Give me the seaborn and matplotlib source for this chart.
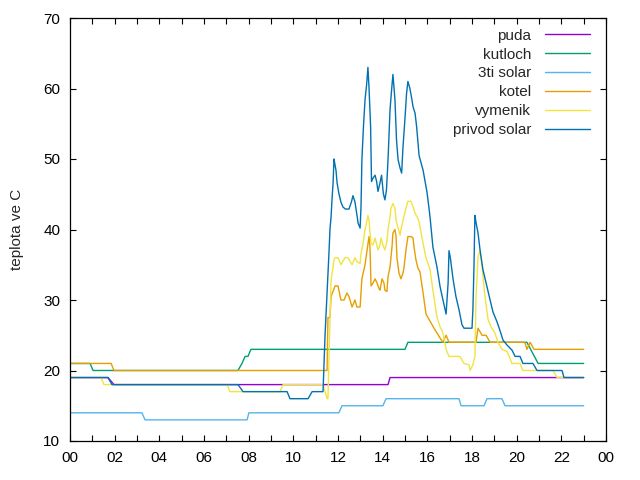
import pandas as pd
import matplotlib
matplotlib.use("Agg")
import matplotlib.pyplot as plt
import seaborn as sns
from matplotlib.ticker import MultipleLocator, FuncFormatter

# sensor names and gnuplot default colours
names = ["puda", "kutloch", "3ti solar", "kotel", "vymenik", "privod solar"]
colors = ["#9400d3", "#009e73", "#56b4e9", "#e69f00", "#f0e442", "#0072b2"]

# readings: time in hours, temperature in C
puda_t = [0.0, 1.70, 1.97, 14.24, 14.33, 23.0]
puda_v = [19, 19, 18, 18, 19, 19]

kutloch_t = [0.0, 0.90, 1.03, 7.52, 7.70, 7.84, 7.97, 8.10, 15.00, 15.13, 20.46, 20.96, 23.0]
kutloch_v = [21, 21, 20, 20, 21, 22, 22, 23, 23, 24, 24, 21, 21]

solar3_t = [0.0, 3.22, 3.36, 7.93, 8.01, 12.04, 12.18, 14.01, 14.15, 17.42, 17.51,
            18.54, 18.67, 19.34, 19.48, 23.0]
solar3_v = [14, 14, 13, 13, 14, 14, 15, 15, 16, 16, 15, 15, 16, 16, 15, 15]

kotel_t = [0.0, 1.84, 1.97, 11.51, 11.55, 11.64, 11.69, 11.87, 12.00, 12.13, 12.27, 12.40,
           12.49, 12.63, 12.76, 12.85, 12.99, 13.07, 13.21, 13.30, 13.39, 13.43, 13.48,
           13.57, 13.66, 13.75, 13.84, 13.88, 13.97, 14.06, 14.10, 14.19, 14.24, 14.33,
           14.42, 14.46, 14.55, 14.60, 14.64, 14.73, 14.82, 14.91, 14.96, 15.04, 15.13,
           15.27, 15.36, 15.40, 15.49, 15.58, 15.67, 15.81, 15.94, 16.12, 16.30, 16.57,
           16.70, 16.84, 16.97, 18.18, 18.27, 18.45, 18.63, 18.81, 20.37, 20.46, 20.60,
           20.78, 23.0]
kotel_v = [21, 21, 20, 20, 27.5, 27.5, 30.5, 32, 32, 30, 30, 31,
           30.5, 29, 30, 29, 29, 33, 35, 37, 39, 37.6, 32,
           32.4, 33, 32.4, 31.6, 31.4, 33, 32.4, 31.4, 31.2, 33.3, 34.7,
           37.6, 39.5, 40, 39, 36, 33.8, 33, 33.8, 34.7, 37, 39,
           39, 38.8, 37.6, 35.7, 34.5, 34, 31, 28, 27, 26, 24.6,
           24, 25, 24, 24, 26, 25, 25, 24, 24, 23, 24,
           23, 23]

vymenik_t = [0.0, 1.39, 1.52, 7.03, 7.16, 7.61, 9.40, 9.54, 11.33, 11.42, 11.51, 11.55,
             11.64, 11.69, 11.78, 11.82, 11.87, 12.00, 12.13, 12.31, 12.45, 12.63, 12.76,
             12.85, 12.99, 13.03, 13.12, 13.21, 13.30, 13.34, 13.39, 13.43, 13.48, 13.57,
             13.66, 13.70, 13.79, 13.88, 13.93, 14.01, 14.10, 14.19, 14.24, 14.33, 14.37,
             14.46, 14.55, 14.60, 14.69, 14.78, 14.82, 14.91, 15.04, 15.13, 15.27, 15.36,
             15.45, 15.54, 15.63, 15.81, 15.94, 16.12, 16.25, 16.43, 16.57, 16.70, 16.84,
             16.97, 17.46, 17.64, 17.87, 17.91, 18.04, 18.13, 18.18, 18.27, 18.36, 18.45,
             18.58, 18.72, 18.85, 19.03, 19.16, 19.34, 19.57, 19.79, 20.15, 20.28, 21.63,
             21.81, 23.0]
vymenik_v = [19, 19, 18, 18, 17, 17, 17, 18, 18, 17, 16, 16,
             27.2, 32.8, 34.7, 35.7, 36, 36, 35, 36, 36, 35, 36,
             35.4, 35.2, 36.6, 38, 40, 41.3, 42, 41.3, 39.7, 38, 37.8,
             38.8, 38.3, 37.1, 37.8, 38.8, 37.8, 37.1, 38.3, 40, 41.8, 43,
             43.7, 43, 41.3, 40.2, 39.2, 40, 41.3, 43, 44, 44, 43.2,
             42.3, 41.8, 41.1, 38, 36, 34.3, 31.4, 27.6, 26.2, 25.3, 23,
             22, 22, 21, 20.8, 20, 20.8, 22, 30.5, 36.1, 37, 34.7,
             30.5, 27.2, 26.2, 25.3, 24, 23, 22.7, 21, 21, 20, 20,
             19, 19]

privod_t = [0.0, 1.70, 1.88, 7.52, 7.75, 9.72, 9.85, 10.66, 10.84, 11.33, 11.42, 11.51,
            11.60, 11.64, 11.69, 11.73, 11.78, 11.82, 11.87, 11.91, 11.96, 12.04, 12.13,
            12.22, 12.33, 12.49, 12.60, 12.67, 12.76, 12.85, 12.90, 12.99, 13.03, 13.07,
            13.14, 13.21, 13.28, 13.34, 13.39, 13.46, 13.50, 13.57, 13.66, 13.73, 13.79,
            13.88, 13.95, 14.03, 14.10, 14.17, 14.24, 14.33, 14.40, 14.46, 14.55, 14.62,
            14.69, 14.78, 14.85, 14.91, 15.00, 15.07, 15.13, 15.22, 15.30, 15.36, 15.45,
            15.52, 15.63, 15.81, 15.99, 16.12, 16.25, 16.43, 16.57, 16.70, 16.84, 16.93,
            16.97, 17.03, 17.15, 17.28, 17.42, 17.55, 17.64, 18.00, 18.04, 18.09, 18.13,
            18.18, 18.27, 18.36, 18.49, 18.67, 18.81, 18.94, 19.12, 19.25, 19.39, 19.57,
            19.79, 19.93, 20.15, 20.28, 20.73, 20.91, 22.03, 22.12, 23.0]
privod_v = [19, 19, 18, 18, 17, 17, 16, 16, 17, 17, 25, 31,
            37, 40, 41.8, 44.2, 46.6, 50, 49.1, 48.4, 46.6, 45.1, 43.9,
            43.2, 42.9, 42.9, 43.9, 44.8, 43.9, 42, 40.9, 40.2, 43.2, 49.9,
            54.6, 58.4, 60.5, 63, 60, 54.6, 46.8, 47.3, 47.7, 46.8, 45.4,
            46.6, 47.7, 45.1, 44.2, 45.6, 49.9, 57, 59.8, 62, 58.4, 52.7,
            49.9, 48.7, 48, 51.7, 55.8, 59.3, 61, 60, 58.6, 57.4, 56.5,
            54.6, 50.5, 48.4, 45.2, 41.8, 37.5, 34.7, 31.9, 30, 28, 32.4,
            37, 36, 33, 30.5, 28.6, 26.5, 26, 26, 28.6, 35, 42,
            41, 39.5, 37.1, 34.3, 31.9, 30, 28.3, 26.9, 25.7, 24.3, 23.6,
            22.9, 22, 22, 21, 21, 20, 20, 19, 19]

series = [(puda_t, puda_v), (kutloch_t, kutloch_v), (solar3_t, solar3_v),
          (kotel_t, kotel_v), (vymenik_t, vymenik_v), (privod_t, privod_v)]

frames = []
for name, (t, v) in zip(names, series):
    frames.append(pd.DataFrame({"cas": t, "teplota": v, "cidlo": name}))
df = pd.concat(frames, ignore_index=True)

sns.set_style("ticks", {"xtick.direction": "in", "ytick.direction": "in"})
plt.rcParams["font.family"] = ["Liberation Sans", "DejaVu Sans"]

fig, ax = plt.subplots(figsize=(6.4, 4.8), dpi=100)
fig.subplots_adjust(left=70 / 640, right=606 / 640, bottom=1 - 441 / 480, top=1 - 18 / 480)

sns.lineplot(data=df, x="cas", y="teplota", hue="cidlo", hue_order=names,
             palette=colors, estimator=None, linewidth=1, ax=ax)

ax.set_xlim(0, 24)
ax.set_ylim(10, 70)
ax.xaxis.set_major_locator(MultipleLocator(1))
ax.xaxis.set_major_formatter(FuncFormatter(
    lambda x, pos: f"{int(round(x)) % 24:02d}" if int(round(x)) % 2 == 0 else ""))
ax.yaxis.set_major_locator(MultipleLocator(10))
ax.tick_params(axis="both", which="major", direction="in", top=True, right=True,
               length=4, width=0.8, labelsize=11, color="black", labelcolor="black", pad=7)
for sp in ax.spines.values():
    sp.set_visible(True)
    sp.set_color("black")
    sp.set_linewidth(0.9)

ax.set_xlabel("")
ax.set_ylabel("teplota ve C", fontsize=11)
ax.yaxis.set_label_coords(-0.086, 0.5)

h, l = ax.get_legend_handles_labels()
ax.legend(h, l, loc="upper right", bbox_to_anchor=(1 - 7 / 536, 1 - 1.5 / 423),
          frameon=False, markerfirst=False, fontsize=11,
          handlelength=2.95, labelspacing=0.32, handletextpad=0.9,
          borderaxespad=0.3, borderpad=0.3)

plt.savefig("out.png", dpi=100)
